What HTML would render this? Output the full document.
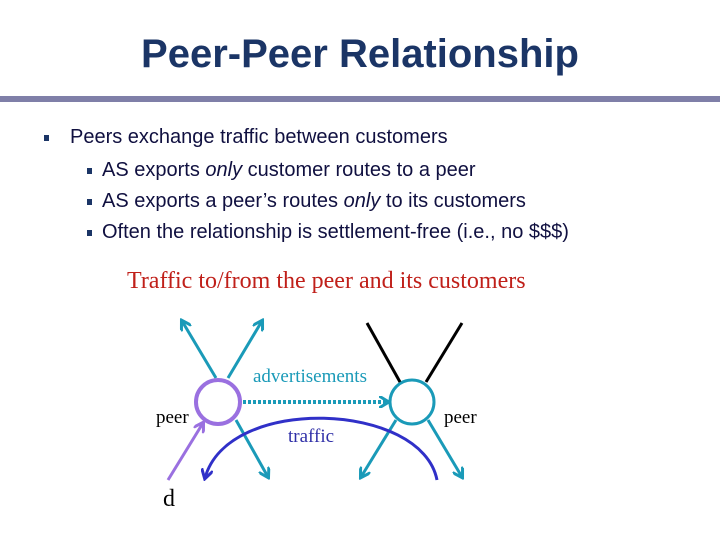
<!DOCTYPE html>
<html><head><meta charset="utf-8"><style>
body{margin:0;width:720px;height:540px;background:#fff;position:relative;overflow:hidden;font-family:"Liberation Sans",sans-serif;}
.t{position:absolute;left:0;width:720px;text-align:center;top:32px;font-size:40px;font-weight:bold;color:#1b3566;}
.bar{position:absolute;left:0;top:96px;width:720px;height:6px;background:#7f7fa8;}
.l{position:absolute;font-size:20px;color:#101040;white-space:nowrap;}
.b{position:absolute;width:5px;height:6px;background:#1b3566;}
.s{position:absolute;font-family:"Liberation Serif",serif;white-space:nowrap;}
</style></head><body>
<div class="t">Peer-Peer Relationship</div>
<div class="bar"></div>
<div class="b" style="left:44px;top:135px"></div>
<div class="l" style="left:70px;top:126px">Peers exchange traffic between customers</div>
<div class="b" style="left:87px;top:168px"></div>
<div class="l" style="left:102px;top:159px">AS exports <i>only</i> customer routes to a peer</div>
<div class="b" style="left:87px;top:199px"></div>
<div class="l" style="left:102px;top:190px">AS exports a peer’s routes <i>only</i> to its customers</div>
<div class="b" style="left:87px;top:230px"></div>
<div class="l" style="left:102px;top:221px">Often the relationship is settlement-free (i.e., no $$$)</div>
<div class="s" style="left:127px;top:268px;font-size:24px;color:#c0201a">Traffic to/from the peer and its customers</div>
<svg width="720" height="540" style="position:absolute;left:0;top:0">
<defs>
<marker id="a" markerWidth="12" markerHeight="12" refX="9" refY="6" orient="auto" markerUnits="userSpaceOnUse"><path d="M0,0 L10,6 L0,12" fill="none" stroke="#1a9ab8" stroke-width="3"/></marker>
<marker id="p" markerWidth="12" markerHeight="12" refX="9" refY="6" orient="auto" markerUnits="userSpaceOnUse"><path d="M0,0 L10,6 L0,12" fill="none" stroke="#9a70e0" stroke-width="3"/></marker>
<marker id="n" markerWidth="12" markerHeight="12" refX="9" refY="6" orient="auto" markerUnits="userSpaceOnUse"><path d="M0,0 L10,6 L0,12" fill="none" stroke="#3030c8" stroke-width="3"/></marker>
</defs>
<g stroke="#1a9ab8" stroke-width="3" fill="none">
<line x1="216" y1="378" x2="182" y2="321" marker-end="url(#a)"/>
<line x1="228" y1="378" x2="262" y2="321" marker-end="url(#a)"/>
<line x1="236" y1="420" x2="268" y2="477" marker-end="url(#a)"/>
<line x1="396" y1="420" x2="361" y2="477" marker-end="url(#a)"/>
<line x1="428" y1="420" x2="462" y2="477" marker-end="url(#a)"/>
<line x1="243" y1="402" x2="388" y2="402" stroke-dasharray="3,2" stroke-width="4" marker-end="url(#a)"/>
<circle cx="412" cy="402" r="22"/>
</g>
<line x1="367" y1="323" x2="400" y2="382" stroke="#000" stroke-width="3"/>
<line x1="462" y1="323" x2="426" y2="382" stroke="#000" stroke-width="3"/>
<circle cx="218" cy="402" r="22" fill="none" stroke="#9a70e0" stroke-width="4"/>
<line x1="168" y1="480" x2="203" y2="423" stroke="#9a70e0" stroke-width="3" marker-end="url(#p)"/>
<path d="M437,480 C422,402 228,394 205,478" fill="none" stroke="#3030c8" stroke-width="3" marker-end="url(#n)"/>
</svg>
<div class="s" style="left:253px;top:366px;font-size:19px;color:#1a9ab8">advertisements</div>
<div class="s" style="left:156px;top:407px;font-size:19px;color:#000">peer</div>
<div class="s" style="left:444px;top:407px;font-size:19px;color:#000">peer</div>
<div class="s" style="left:288px;top:426px;font-size:19px;color:#3030a8">traffic</div>
<div class="s" style="left:163px;top:486px;font-size:24px;color:#000">d</div>
</body></html>
